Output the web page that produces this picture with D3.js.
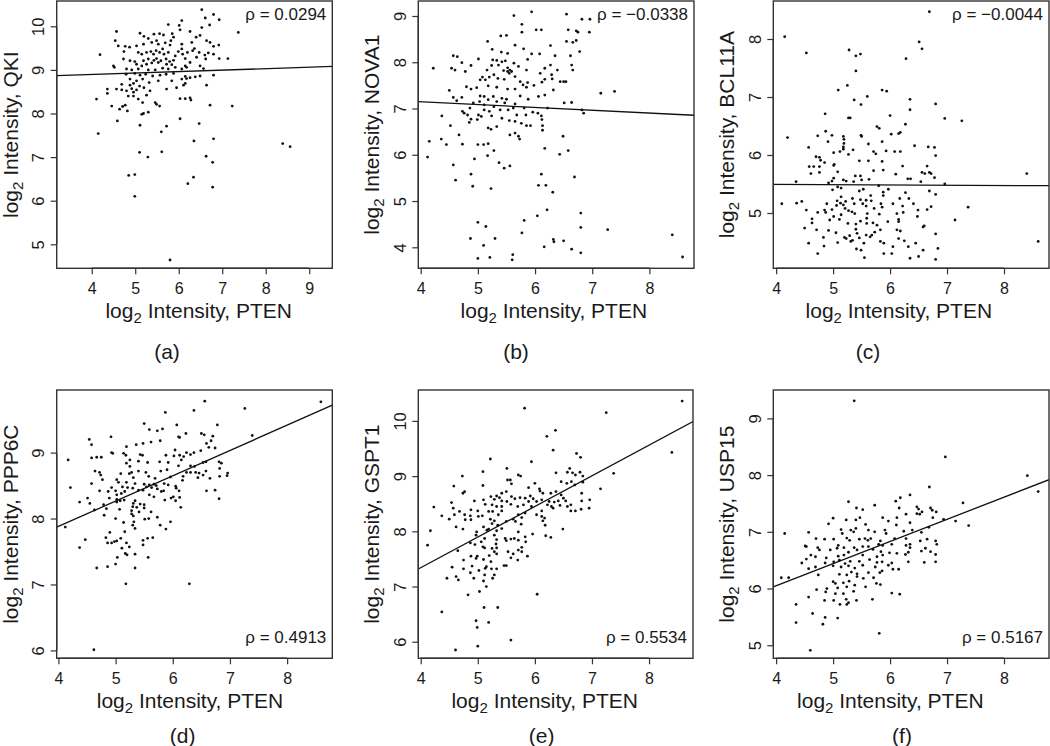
<!DOCTYPE html>
<html>
<head>
<meta charset="utf-8">
<title>PTEN vs target genes</title>
<script src="https://d3js.org/d3.v7.min.js"></script>
<style>
  body { margin:0; background:#fff; }
  svg text { font-family: "Liberation Sans", Arial, Helvetica, sans-serif; fill:#1a1a1a; }
</style>
</head>
<body>
<script>
// ---- data ----
var panelLetters = ["a", "b", "c", "d", "e", "f"];
var genes = ["QKI", "NOVA1", "BCL11A", "PPP6C", "GSPT1", "USP15"];
var rhoLabels = ["0.0294", "\u22120.0338", "\u22120.0044", "0.4913", "0.5534", "0.5167"];
var fitIntercepts = [8.764, 7.39, 5.515, 6.345, 5.12, 4.49];
var fitSlopes = [0.033, -0.061, -0.005, 0.384, 0.555, 0.39];
var xTicksA = [4, 5, 6, 7, 8, 9];
var xTicksOther = [4, 5, 6, 7, 8];
var yTicks = [[5, 6, 7, 8, 9, 10], [4, 5, 6, 7, 8, 9], [5, 6, 7, 8], [6, 7, 8, 9], [6, 7, 8, 9, 10], [5, 6, 7, 8, 9]];

var pointsA = [[6.53,10.38],[6.80,10.27],[6.61,10.19],[6.93,10.15],[6.07,10.13],[6.71,10.03],[5.76,10.04],[6.01,10.02],[6.53,9.97],[6.03,9.92],[4.57,9.88],[6.26,9.88],[7.37,9.86],
[5.11,9.84],[5.43,9.82],[5.56,9.83],[5.65,9.80],[5.85,9.83],[5.88,9.75],[5.20,9.77],[5.30,9.72],[6.49,9.79],[6.40,9.75],[4.54,9.67],[5.49,9.67],[5.82,9.67],[6.64,9.67],[6.72,9.63],[4.61,9.55],[4.77,9.54],[4.87,9.52],[5.03,9.55],[5.19,9.59],[5.38,9.63],[5.53,9.59],[5.69,9.62],[5.80,9.57],[6.07,9.59],[6.30,9.63],[6.80,9.54],[6.92,9.57],[6.36,9.49],
[4.19,9.35],[4.74,9.42],[5.07,9.40],[5.15,9.36],[5.26,9.40],[5.36,9.42],[5.42,9.36],[5.48,9.44],[5.56,9.40],[5.63,9.48],[5.66,9.36],[5.76,9.40],[5.92,9.32],[5.99,9.42],[6.09,9.36],[6.20,9.40],[6.32,9.44],[6.47,9.40],[6.60,9.34],[6.68,9.39],[6.80,9.36],[6.07,9.48],[6.41,9.29],[6.62,9.25],[6.93,9.26],[7.13,9.26],[4.73,9.25],[4.88,9.21],[4.99,9.19],[5.19,9.21],[5.30,9.25],[5.43,9.22],[5.49,9.26],[5.59,9.21],[5.71,9.25],[5.79,9.19],[5.88,9.22],[6.15,9.26],[6.26,9.17],[5.26,9.13],[5.38,9.16],[5.53,9.17],[5.72,9.13],[5.84,9.12],[4.50,9.09],[4.52,9.06],[5.03,9.13],[5.15,9.09],[6.49,9.09],[6.15,9.09],
[4.80,9.02],[4.92,9.00],[5.07,9.02],[5.30,9.00],[5.46,9.00],[5.63,9.04],[5.76,9.02],[5.92,9.06],[6.07,9.02],[6.18,9.06],[6.57,9.03],[4.79,8.90],[4.99,8.92],[5.11,8.88],[5.24,8.90],[5.40,8.86],[5.57,8.88],[5.71,8.90],[5.88,8.92],[6.15,8.85],[6.26,8.82],[6.38,8.84],[6.49,8.86],[6.80,8.88],[4.88,8.79],[5.03,8.75],[5.17,8.79],[5.32,8.71],[5.53,8.75],[5.84,8.75],[6.07,8.79],[6.18,8.80],[4.69,8.67],[4.88,8.65],[4.96,8.69],[5.10,8.63],[6.11,8.65],[6.15,8.69],[6.64,8.65],
[4.57,8.56],[4.36,8.56],[4.36,8.46],[4.69,8.54],[4.80,8.52],[4.92,8.57],[4.96,8.49],[5.03,8.54],[5.20,8.59],[5.34,8.52],[5.72,8.56],[5.95,8.59],[4.84,8.40],[4.96,8.40],[5.26,8.42],[5.07,8.33],[6.03,8.34],[6.15,8.34],[6.26,8.36],[6.28,8.31],[4.11,8.33],[5.17,8.25],[5.46,8.25],[5.49,8.21],[4.46,8.17],[4.71,8.16],[4.77,8.19],[5.56,8.17],[6.72,8.19],[7.23,8.17],[4.64,8.10],[4.82,8.06],[5.30,8.03],[5.19,8.00],[5.15,7.98],
[4.59,7.83],[6.03,7.88],[5.11,7.73],[5.72,7.71],[6.47,7.77],[4.15,7.54],[5.60,7.58],[6.80,7.42],[6.35,7.37],[8.39,7.31],[8.56,7.24],[5.10,7.11],[5.61,7.12],[5.29,7.00],[6.63,7.02],[6.78,6.88],[4.85,6.58],[4.99,6.60],[6.34,6.54],[6.21,6.39],[6.78,6.31],[4.99,6.10],[5.80,4.64]];

var pointsB = [[5.94,9.09],[5.63,9.01],[6.55,9.04],[6.82,8.93],[6.96,8.93],[5.77,8.82],[6.58,8.70],[6.72,8.68],[6.75,8.65],[6.95,8.65],[6.02,8.70],[6.11,8.70],[5.77,8.65],[5.40,8.57],[5.50,8.58],[6.55,8.45],[6.66,8.43],[6.72,8.47],[5.17,8.45],[5.65,8.37],[6.27,8.36],[5.80,8.29],[6.78,8.23],[5.25,8.28],[5.41,8.22],[5.52,8.19],[5.94,8.18],[6.08,8.18],[6.35,8.14],[4.57,8.14],[4.64,8.12],[6.62,8.14],[5.87,8.06],[5.01,8.07],[5.26,8.05],[5.33,8.04],[5.42,8.01],[5.48,8.03],[5.63,7.98],[4.72,7.99],
[4.22,7.87],[4.54,7.87],[4.60,7.83],[4.88,7.93],[5.24,7.93],[5.36,7.94],[5.52,7.88],[5.56,7.83],[5.71,7.91],[5.85,7.83],[6.17,7.87],[6.27,7.94],[6.39,7.83],[6.64,7.94],[6.66,7.83],[4.78,7.80],[5.16,7.83],[5.45,7.82],[5.52,7.80],[5.55,7.76],[5.59,7.80],[6.09,7.76],[6.29,7.73],[5.28,7.73],[5.08,7.68],[5.20,7.68],[5.35,7.65],[5.46,7.63],[5.65,7.69],[6.17,7.63],[6.30,7.64],[6.44,7.58],[6.50,7.58],[6.54,7.58],[5.04,7.62],[5.13,7.62],[5.74,7.58],[5.87,7.56],[6.12,7.57],[5.98,7.50],[5.79,7.51],
[4.80,7.47],[4.88,7.42],[4.98,7.45],[5.18,7.49],[5.33,7.46],[5.52,7.42],[5.65,7.42],[5.85,7.46],[6.32,7.40],[4.50,7.39],[6.06,7.26],[6.17,7.29],[5.27,7.26],[5.42,7.22],[5.50,7.20],[5.04,7.27],[5.11,7.26],[4.72,7.24],[4.57,7.24],[7.15,7.33],[7.39,7.37],[5.74,7.27],[5.88,7.20],[4.63,7.17],[5.18,7.19],[5.33,7.15],[5.47,7.12],[5.65,7.10],[5.03,7.15],[4.92,7.12],[6.51,7.12],[6.64,7.13],[5.11,7.08],
[6.22,7.01],[4.86,7.01],[5.28,7.04],[5.39,6.97],[4.73,6.94],[4.76,6.90],[5.11,6.97],[5.20,6.94],[5.53,6.97],[5.62,7.01],[5.81,7.01],[5.96,6.92],[6.05,6.90],[6.82,6.97],[6.85,6.90],[4.37,6.84],[4.82,6.86],[5.01,6.86],[5.06,6.83],[5.24,6.84],[5.42,6.79],[5.68,6.86],[5.84,6.86],[6.11,6.84],[4.88,6.77],[4.99,6.76],[5.55,6.74],[5.65,6.72],[5.76,6.68],[6.12,6.76],[4.85,6.70],[4.52,6.63],[5.18,6.58],[5.23,6.55],[5.85,6.63],[5.92,6.63],[6.13,6.63],[6.13,6.53],[4.67,6.43],[5.33,6.61],[5.65,6.47],[5.56,6.43],[5.71,6.40],[5.73,6.34],[6.49,6.40],
[4.15,6.29],[4.36,6.34],[4.45,6.22],[4.73,6.23],[5.00,6.22],[5.10,6.22],[5.18,6.24],[6.17,6.14],[6.58,6.09],[5.28,6.09],[4.12,5.95],[5.17,5.98],[6.43,6.01],[4.94,5.91],[5.37,5.83],[4.57,5.78],[5.46,5.71],[5.56,5.76],[4.61,5.45],[4.88,5.58],[6.11,5.58],[6.69,5.52],[4.91,5.32],[5.23,5.27],[6.06,5.34],[6.19,5.34],[6.31,5.19],
[6.21,4.81],[5.81,4.58],[6.80,4.74],[6.04,4.68],[5.00,4.54],[5.14,4.45],[6.80,4.43],[7.27,4.38],[8.40,4.27],[4.87,4.19],[5.30,4.19],[6.32,4.17],[6.33,4.12],[6.50,4.14],[5.77,4.31],[5.10,4.04],[6.16,4.01],[6.64,3.96],[6.80,3.88],[5.61,3.84],[5.60,3.73],[5.00,3.76],[5.21,3.78],[8.58,3.79]];

var pointsC = [[6.69,8.47],[4.15,8.04],[6.51,7.95],[6.56,7.83],[5.28,7.81],[5.48,7.74],[5.40,7.71],[4.53,7.76],[6.28,7.66],[5.40,7.45],[5.09,7.12],[5.25,7.20],[5.86,7.12],[5.94,7.10],[5.60,7.01],[5.37,6.95],[6.35,6.96],[5.49,6.87],[6.80,6.88],[6.35,6.78],[5.27,6.64],[5.30,6.64],[6.96,6.63],[7.26,6.59],[4.86,6.71],[6.00,6.68],[6.27,6.53],[5.77,6.49],[5.81,6.46],[6.18,6.39],[6.15,6.37],[4.87,6.41],[6.02,6.36],[4.20,6.30],[5.49,6.34],[5.50,6.32],[4.73,6.33],[4.98,6.34],[5.18,6.32],[5.19,6.27],
[4.91,6.23],[5.86,6.23],[5.19,6.20],[5.18,6.14],[5.62,6.19],[6.43,6.16],[6.67,6.14],[6.78,6.13],[4.57,6.13],[5.18,6.10],[5.35,6.09],[5.01,6.04],[5.12,6.06],[5.71,6.06],[5.93,6.07],[6.08,6.06],[6.18,6.06],[5.75,6.02],[5.27,6.01],[6.80,5.99],[4.70,5.97],[4.76,5.96],[4.78,5.91],[4.85,5.87],[5.46,5.90],[5.62,5.90],[5.86,5.89],[5.01,5.82],[5.02,5.84],[4.58,5.80],[4.66,5.80],[4.76,5.80],[6.22,5.81],[6.65,5.81],[5.88,5.74],[5.71,5.73],[4.61,5.68],[4.76,5.70],[5.08,5.71],[6.10,5.67],[6.56,5.70],[6.61,5.68],[6.69,5.70],[6.72,5.68],[8.40,5.68],[5.39,5.64],[5.48,5.64],
[6.31,5.59],[6.36,5.59],[6.78,5.61],[5.01,5.60],[5.18,5.57],[5.23,5.55],[5.36,5.54],[5.50,5.57],[5.63,5.58],[6.54,5.54],[4.35,5.54],[4.92,5.52],[4.98,5.55],[6.96,5.50],[5.80,5.47],[5.08,5.45],[4.99,5.40],[5.14,5.43],[5.53,5.41],[5.97,5.41],[5.46,5.38],[5.88,5.36],[6.27,5.35],[6.69,5.38],[5.88,5.30],[5.14,5.28],[5.34,5.25],[5.66,5.30],[6.80,5.32],[5.48,5.23],[5.58,5.22],[6.17,5.25],[6.33,5.25],[5.07,5.21],[5.22,5.20],[7.37,5.10],
[4.10,5.16],[4.36,5.17],[4.45,5.20],[4.89,5.16],[5.06,5.13],[5.13,5.17],[5.18,5.14],[5.37,5.16],[5.67,5.21],[5.52,5.16],[5.58,5.12],[5.84,5.16],[6.05,5.16],[6.22,5.12],[6.41,5.16],[6.72,5.11],[5.21,5.08],[5.72,5.08],[5.86,5.10],[4.85,5.05],[4.53,5.05],[4.98,5.06],[5.27,5.04],[5.33,5.02],[6.65,5.06],[6.49,5.05],[4.73,5.01],[4.87,5.01],[5.38,4.99],[6.12,4.99],[6.23,5.01],[5.14,4.97],[5.01,4.94],[5.60,4.99],[5.81,4.98],[5.59,4.91],[5.11,4.89],[6.15,4.89],[6.48,4.94],[4.63,4.90],[4.94,4.88],[5.48,4.86],[5.96,4.85],[5.26,4.82],[6.15,4.85],[4.63,4.83],[5.40,4.81],[5.59,4.82],[5.70,4.83],[5.77,4.79],[6.58,4.76],[6.60,4.78],[7.14,4.88],
[4.50,4.74],[4.71,4.71],[4.92,4.70],[5.40,4.72],[5.83,4.71],[6.12,4.71],[6.18,4.69],[5.73,4.67],[5.42,4.65],[5.05,4.66],[5.58,4.62],[6.80,4.64],[5.29,4.61],[5.65,4.59],[4.83,4.58],[5.20,4.58],[6.15,4.56],[5.23,4.56],[5.46,4.57],[5.68,4.62],[5.34,4.53],[5.31,4.51],[5.08,4.49],[5.54,4.48],[5.83,4.51],[5.89,4.48],[6.25,4.52],[6.45,4.48],[8.60,4.51],[4.57,4.48],[4.84,4.43],[6.32,4.42],[6.05,4.42],[5.41,4.38],[5.49,4.36],[6.58,4.36],[6.84,4.39],[4.73,4.30],[5.89,4.30],[6.03,4.30],[5.55,4.23],[6.35,4.22],[6.50,4.25],[6.80,4.20]];

var pointsD = [[6.56,9.78],[8.59,9.77],[6.37,9.64],[5.87,9.61],[7.26,9.67],[5.50,9.44],[6.78,9.42],[6.07,9.42],[5.82,9.36],[5.59,9.35],[5.73,9.33],[6.50,9.29],[6.55,9.27],[6.23,9.29],[7.39,9.26],[6.70,9.25],[4.92,9.24],[4.54,9.20],[4.58,9.12],[6.12,9.23],[6.10,9.24],[6.67,9.18],[6.59,9.14],[5.62,9.16],[5.48,9.14],[5.78,9.18],[5.19,9.09],[5.36,9.12],[4.95,8.99],[5.14,8.99],[4.93,9.00],[6.04,9.04],[6.24,9.00],[6.37,9.00],[6.49,9.03],[6.74,9.07],[6.63,9.08],
[4.17,8.89],[4.58,8.92],[4.67,8.93],[4.75,8.93],[5.18,8.96],[5.43,8.97],[5.47,8.96],[5.88,8.96],[6.02,8.95],[6.12,8.96],[6.19,8.94],[6.31,8.97],[5.77,8.86],[5.92,8.85],[6.15,8.89],[5.25,8.89],[5.19,8.84],[5.25,8.79],[5.40,8.87],[5.56,8.85],[6.53,8.85],[6.58,8.86],[6.81,8.86],[6.85,8.84],[6.82,8.76],[6.38,8.79],[6.31,8.80],[6.10,8.80],[5.90,8.74],[5.79,8.72],[5.40,8.72],[5.28,8.70],[4.64,8.72],[4.72,8.70],[4.74,8.66],[5.09,8.68],[5.24,8.68],[5.53,8.70],[6.24,8.70],[6.31,8.70],[6.40,8.70],[6.46,8.69],[6.53,8.66],[6.58,8.72],[6.96,8.69],[6.95,8.65],
[4.77,8.59],[5.02,8.59],[5.31,8.62],[5.58,8.64],[5.69,8.61],[5.96,8.63],[6.18,8.64],[6.44,8.62],[6.82,8.64],[6.65,8.61],[4.58,8.53],[5.05,8.55],[5.19,8.55],[5.34,8.53],[5.50,8.52],[5.59,8.51],[5.67,8.52],[5.71,8.50],[5.85,8.53],[5.92,8.51],[6.05,8.49],[6.17,8.58],[4.21,8.47],[4.93,8.47],[5.12,8.48],[5.21,8.47],[5.30,8.46],[5.54,8.48],[5.63,8.47],[5.73,8.45],[6.06,8.46],[5.00,8.42],[4.87,8.41],[4.72,8.42],[5.16,8.41],[5.40,8.43],[5.48,8.43],[5.80,8.41],[5.84,8.42],[6.11,8.42],[6.59,8.42],[6.74,8.43],
[5.02,8.36],[5.10,8.38],[5.59,8.36],[5.67,8.33],[6.01,8.33],[4.51,8.31],[4.89,8.31],[5.02,8.29],[5.08,8.27],[5.15,8.28],[5.34,8.27],[5.86,8.28],[5.97,8.31],[6.05,8.27],[6.12,8.32],[6.81,8.30],[4.37,8.25],[4.55,8.23],[5.02,8.25],[5.31,8.23],[5.43,8.22],[5.30,8.18],[5.37,8.17],[5.50,8.21],[4.79,8.21],[6.14,8.17],[4.63,8.13],[4.84,8.15],[5.07,8.14],[5.28,8.12],[5.41,8.10],[5.50,8.16],[5.62,8.10],[4.80,8.05],[5.28,8.07],[5.31,8.04],[5.00,8.00],[5.58,8.00],[5.73,8.02],[5.51,7.99],
[5.32,7.95],[5.14,7.94],[5.96,7.95],[5.30,7.90],[5.78,7.90],[5.34,7.85],[5.88,7.84],[4.12,7.87],[5.16,7.80],[4.90,7.79],[4.83,7.71],[5.65,7.71],[4.86,7.63],[4.93,7.63],[4.98,7.65],[5.02,7.66],[5.09,7.70],[5.48,7.67],[5.56,7.70],[5.19,7.63],[5.48,7.60],[4.47,7.68],[4.37,7.56],[5.11,7.55],[5.24,7.57],[5.17,7.47],[5.20,7.45],[5.34,7.46],[5.57,7.41],[5.03,7.41],[5.00,7.31],[4.67,7.25],[4.86,7.27],[5.34,7.25],[5.18,7.01],[6.29,7.01],[4.62,6.01]];

var pointsE = [[8.58,10.36],[5.82,10.23],[7.25,10.15],[6.36,9.83],[6.21,9.72],[5.22,9.31],[8.40,9.43],[6.32,9.47],[6.73,9.41],[6.80,9.34],[5.94,9.26],[5.51,9.14],[5.09,9.08],[4.73,9.00],[7.38,9.05],[6.37,9.06],[6.61,9.14],[6.57,9.07],[6.66,9.06],[6.71,9.02],[6.79,9.07],[6.84,9.00],[5.71,9.02],[5.75,9.00],[5.52,8.93],[5.57,8.93],
[4.58,8.82],[5.09,8.83],[5.59,8.86],[6.00,8.87],[6.46,8.90],[6.56,8.87],[6.64,8.90],[6.84,8.89],[6.70,8.84],[4.77,8.72],[4.74,8.69],[5.42,8.69],[5.50,8.72],[5.89,8.79],[6.08,8.77],[6.09,8.73],[6.14,8.69],[7.15,8.77],[6.28,8.69],[6.37,8.72],[5.33,8.64],[5.38,8.61],[5.23,8.63],[5.29,8.58],[5.59,8.63],[5.65,8.59],[5.74,8.61],[5.83,8.60],[5.92,8.64],[5.97,8.59],[6.46,8.66],[6.50,8.60],[6.82,8.69],[6.82,8.55],[6.96,8.57],
[5.10,8.57],[4.94,8.55],[4.54,8.52],[4.57,8.42],[4.23,8.44],[5.42,8.55],[5.51,8.54],[5.89,8.54],[6.03,8.54],[6.12,8.57],[6.25,8.54],[6.34,8.53],[6.41,8.55],[6.54,8.55],[6.63,8.48],[5.13,8.49],[5.25,8.48],[5.33,8.45],[5.42,8.45],[5.58,8.49],[5.70,8.45],[5.80,8.48],[5.94,8.45],[6.22,8.48],[6.29,8.45],[6.44,8.47],[6.57,8.45],[6.95,8.42],[6.81,8.40],[6.32,8.42],
[4.37,8.28],[4.68,8.36],[4.88,8.39],[5.00,8.37],[5.19,8.36],[5.26,8.36],[5.42,8.37],[6.12,8.37],[6.63,8.37],[6.71,8.37],[4.59,8.30],[4.77,8.30],[4.87,8.28],[5.01,8.27],[5.08,8.28],[5.36,8.30],[5.71,8.30],[5.83,8.33],[6.03,8.30],[6.12,8.27],[6.17,8.24],[4.78,8.21],[4.50,8.22],[4.88,8.21],[5.22,8.22],[5.29,8.19],[5.62,8.22],[5.66,8.18],[5.77,8.25],[6.14,8.19],[5.25,8.14],[5.35,8.11],[5.50,8.18],[5.76,8.13],[6.18,8.11],[4.62,8.08],[5.10,8.08],[5.42,8.05],[4.74,8.04],[4.17,8.01],[5.16,8.02],[5.19,8.04],[6.49,8.04],
[4.98,7.99],[5.33,8.01],[5.71,7.99],[5.96,7.95],[4.97,7.93],[5.29,7.93],[6.19,7.92],[6.28,7.89],[5.83,7.90],[5.48,7.87],[5.58,7.86],[5.12,7.87],[5.64,7.87],[5.06,7.81],[5.33,7.85],[5.50,7.83],[5.71,7.84],[5.84,7.81],[4.87,7.79],[4.95,7.76],[4.12,7.75],[5.32,7.77],[5.09,7.72],[5.12,7.70],[5.25,7.69],[5.33,7.70],[5.77,7.71],[5.53,7.63],[5.29,7.63],[5.33,7.59],[5.62,7.59],[5.71,7.66],[5.77,7.63],[4.65,7.65],[4.88,7.55],[4.99,7.55],[5.20,7.56],[5.58,7.52],[5.87,7.55],[4.97,7.51],
[4.75,7.48],[5.10,7.49],[5.70,7.48],[5.23,7.45],[5.46,7.38],[5.50,7.38],[4.90,7.37],[4.55,7.35],[5.15,7.36],[5.24,7.32],[5.33,7.32],[5.13,7.33],[4.75,7.32],[5.02,7.29],[4.87,7.25],[5.12,7.21],[5.29,7.21],[5.26,7.15],[4.62,7.18],[4.46,7.15],[4.93,7.15],[5.10,7.10],[4.66,7.12],[5.15,7.00],[5.03,6.91],[4.83,6.85],[6.04,6.86],[5.11,6.62],[5.35,6.62],[4.37,6.54],[4.97,6.38],[5.19,6.35],[4.99,6.26],[5.58,6.03],[5.00,5.92],[4.61,5.85]];

var pointsF = [[5.37,9.31],[6.97,8.32],[8.41,7.99],[8.60,7.71],[6.69,7.79],[6.35,7.65],[5.27,7.53],[6.18,7.60],[6.10,7.54],[5.73,7.47],[7.28,7.51],[5.41,7.42],[5.52,7.39],[6.16,7.42],[6.47,7.44],[6.50,7.40],[6.71,7.42],[6.74,7.38],[6.56,7.35],[6.52,7.31],[6.47,7.32],[6.81,7.35],[6.28,7.31],[5.00,7.24],[5.87,7.25],[6.12,7.25],[5.47,7.25],[6.75,7.25],[6.94,7.22],[7.15,7.19],[6.35,7.16],[4.92,7.14],[5.23,7.21],[5.40,7.21],[5.57,7.13],[5.97,7.19],[6.11,7.12],[6.68,7.08],[7.38,7.11],
[4.15,6.97],[4.57,6.99],[5.14,7.04],[5.31,7.03],[5.40,7.06],[5.62,7.03],[5.73,7.00],[5.91,7.03],[6.24,7.01],[6.39,7.03],[6.55,6.99],[5.93,6.97],[5.16,6.97],[5.36,7.00],[4.70,6.88],[4.85,6.87],[5.01,6.87],[5.24,6.89],[5.29,6.85],[5.46,6.87],[5.56,6.88],[5.61,6.85],[5.66,6.88],[5.83,6.84],[6.08,6.88],[6.28,6.88],[6.53,6.84],[6.65,6.87],[6.80,6.84],
[4.51,6.75],[4.53,6.74],[4.73,6.72],[5.09,6.76],[5.19,6.72],[5.37,6.72],[5.52,6.74],[5.62,6.74],[5.80,6.78],[5.87,6.76],[6.03,6.78],[6.28,6.76],[6.35,6.78],[6.82,6.78],[6.35,6.72],[6.62,6.71],[4.76,6.68],[4.95,6.68],[5.07,6.71],[5.27,6.64],[5.42,6.68],[5.70,6.69],[5.84,6.65],[5.99,6.63],[6.12,6.62],[6.32,6.64],[6.55,6.66],[4.61,6.59],[4.69,6.56],[4.88,6.54],[5.09,6.57],[5.19,6.59],[5.52,6.59],[5.77,6.56],[5.87,6.59],[6.27,6.60],[6.80,6.60],[6.71,6.65],
[4.45,6.45],[4.53,6.52],[4.86,6.45],[5.01,6.47],[5.11,6.50],[5.21,6.44],[5.30,6.48],[5.46,6.48],[5.64,6.51],[5.77,6.46],[5.86,6.47],[6.03,6.45],[6.32,6.47],[6.60,6.46],[6.80,6.47],[5.00,6.40],[5.14,6.38],[5.27,6.40],[5.38,6.36],[5.52,6.41],[5.74,6.38],[5.97,6.41],[4.57,6.35],[4.69,6.38],[6.05,6.34],[6.15,6.34],[5.32,6.29],[5.42,6.26],[5.62,6.28],[5.82,6.28],[5.86,6.31],
[4.09,6.19],[4.22,6.19],[4.74,6.24],[5.11,6.25],[5.24,6.24],[5.42,6.21],[5.53,6.18],[5.71,6.19],[5.28,6.13],[5.00,6.12],[5.04,6.09],[5.18,6.10],[5.76,6.09],[5.38,6.06],[5.57,6.03],[5.83,6.07],[4.89,6.00],[5.08,6.01],[5.24,6.03],[4.87,5.94],[5.04,5.91],[5.18,5.91],[5.36,5.95],[6.03,5.92],[6.17,5.90],[4.57,5.85],[4.71,5.98],[4.85,5.79],[5.01,5.79],[5.23,5.81],[5.41,5.79],[5.69,5.81],
[5.12,5.72],[5.24,5.72],[5.27,5.75],[4.35,5.72],[4.64,5.56],[4.86,5.49],[5.08,5.48],[4.35,5.40],[4.82,5.37],[5.81,5.21],[4.60,4.91]];

var panelPoints = [pointsA, pointsB, pointsC, pointsD, pointsE, pointsF];

// ---- layout (pixel boxes, axis limits) ----
var layout = [
  {l: 56.7, r: 332.3, t: 1, b: 268.3, xd: [3.195, 9.53], yd: [4.45, 10.58], lab: 198.7, tag: 167, tagY: 359},
  {l: 418.3, r: 694, t: 1, b: 268.3, xd: [3.958, 8.78], yd: [3.546, 9.324], lab: 553.8, tag: 516, tagY: 359},
  {l: 773.3, r: 1049, t: 1, b: 268.3, xd: [3.95, 8.79], yd: [4.047, 8.655], lab: 898.8, tag: 868, tagY: 359},
  {l: 56.7, r: 332.3, t: 390, b: 658.3, xd: [3.97, 8.79], yd: [5.88, 9.95], lab: 190, tag: 182.7, tagY: 743},
  {l: 418.3, r: 693, t: 390, b: 658.3, xd: [3.958, 8.77], yd: [5.70, 10.56], lab: 544.7, tag: 541.7, tagY: 743},
  {l: 773.3, r: 1049, t: 390, b: 658.3, xd: [3.95, 8.79], yd: [4.77, 9.50], lab: 890.3, tag: 902, tagY: 743}
];

var svg = d3.select("body").append("svg")
    .attr("width", 1050)
    .attr("height", 746);

var defs = svg.append("defs");

function axisTitle(sel, gene, x, y, rotate) {
  var t = sel.append("text")
      .attr("text-anchor", "middle")
      .attr("font-size", "21px")
      .attr("transform", "translate(" + x + "," + y + ")" + (rotate ? " rotate(-90)" : ""));
  t.append("tspan").text("log");
  t.append("tspan").attr("font-size", "15px").attr("dy", 5).text("2");
  t.append("tspan").attr("dy", -5).text(" Intensity, " + gene);
}

layout.forEach(function(L, i) {
  var g = svg.append("g").attr("class", "panel");
  var x = d3.scaleLinear().domain(L.xd).range([L.l, L.r]);
  var y = d3.scaleLinear().domain(L.yd).range([L.b, L.t]);

  defs.append("clipPath").attr("id", "clip" + i)
    .append("rect").attr("x", L.l).attr("y", L.t)
    .attr("width", L.r - L.l).attr("height", L.b - L.t);

  // points
  g.append("g").attr("clip-path", "url(#clip" + i + ")")
    .selectAll("circle")
    .data(panelPoints[i])
    .enter().append("circle")
      .attr("cx", function(d) { return x(d[0]); })
      .attr("cy", function(d) { return y(d[1]); })
      .attr("r", 1.4)
      .attr("fill", "#111");

  // fitted line
  var lineData = L.xd.map(function(v) { return [v, fitIntercepts[i] + fitSlopes[i] * v]; });
  g.append("path")
    .attr("clip-path", "url(#clip" + i + ")")
    .attr("d", d3.line().x(function(d) { return x(d[0]); }).y(function(d) { return y(d[1]); })(lineData))
    .attr("fill", "none")
    .attr("stroke", "#111")
    .attr("stroke-width", 1.3);

  // box
  g.append("rect")
    .attr("x", L.l).attr("y", L.t)
    .attr("width", L.r - L.l).attr("height", L.b - L.t)
    .attr("fill", "none")
    .attr("stroke", "#333")
    .attr("stroke-width", 1.4);

  // x axis
  var xt = i === 0 ? xTicksA : xTicksOther;
  var xa = g.append("g").attr("transform", "translate(0," + L.b + ")")
    .call(d3.axisBottom(x).tickValues(xt).tickFormat(d3.format("d")).tickSize(6).tickSizeOuter(0));
  xa.select(".domain").attr("stroke", "#333").attr("stroke-width", 1.4)
    .attr("d", "M" + x(xt[0]) + ",0H" + x(xt[xt.length - 1]));
  xa.selectAll(".tick line").attr("stroke", "#333").attr("stroke-width", 1.2);
  xa.selectAll(".tick text").attr("font-size", "16px").attr("font-family", null).attr("fill", "#1a1a1a")
    .attr("y", 25.5).attr("dy", 0);

  // y axis (rotated tick labels, R style)
  var yt = yTicks[i];
  var ya = g.append("g").attr("transform", "translate(" + L.l + ",0)")
    .call(d3.axisLeft(y).tickValues(yt).tickFormat(d3.format("d")).tickSize(6).tickSizeOuter(0));
  ya.select(".domain").attr("stroke", "#333").attr("stroke-width", 1.4)
    .attr("d", "M0," + y(yt[0]) + "V" + y(yt[yt.length - 1]));
  ya.selectAll(".tick line").attr("stroke", "#333").attr("stroke-width", 1.2);
  ya.selectAll(".tick text")
    .attr("font-size", "16.5px").attr("font-family", null).attr("fill", "#1a1a1a")
    .attr("x", null).attr("dy", null)
    .attr("text-anchor", "middle")
    .attr("transform", "translate(-12.8,0) rotate(-90)");

  // axis titles
  axisTitle(g, "PTEN", L.lab, L.b + 50, false);
  axisTitle(g, genes[i], L.l - 39, (L.t + L.b) / 2, true);

  // correlation label
  g.append("text")
    .attr("x", L.r - 6)
    .attr("y", i < 3 ? L.t + 19 : L.b - 15)
    .attr("text-anchor", "end")
    .attr("font-size", "17px")
    .text("\u03c1 = " + rhoLabels[i]);

  // panel tag
  g.append("text")
    .attr("x", L.tag)
    .attr("y", L.tagY)
    .attr("text-anchor", "middle")
    .attr("font-size", "21px")
    .text("(" + panelLetters[i] + ")");
});
</script>
</body>
</html>
